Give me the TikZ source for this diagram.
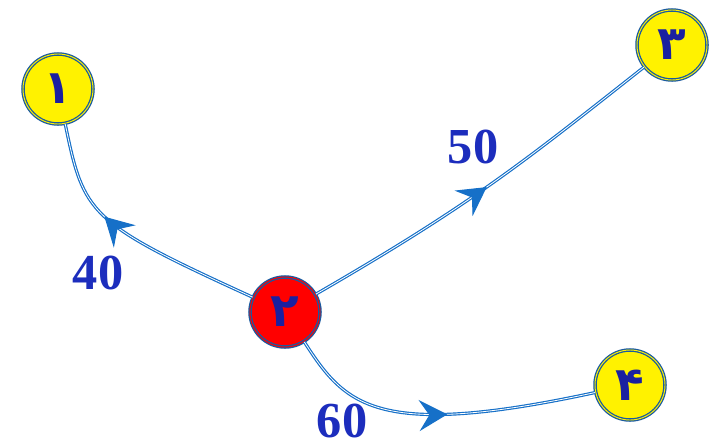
\documentclass[tikz,border=0pt]{standalone}
\usepackage{fontspec}
\usepackage{tikz}
\usetikzlibrary{arrows.meta, decorations.markings}
\newfontfamily\persianfont[Script=Arabic]{DejaVu Sans}
\newfontfamily\weightfont{Liberation Serif}
\definecolor{edgeblue}{RGB}{22,112,200}
\definecolor{ringblue}{RGB}{26,90,160}
\definecolor{labelblue}{RGB}{28,45,189}
\definecolor{digitblue}{RGB}{26,32,160}
\tikzset{
  vertex/.style={circle, draw=ringblue, double=yellow, double distance=0.8pt,
                 line width=1.1pt, fill=yellow, minimum size=2.1cm, inner sep=0pt,
                 text=digitblue, font=\persianfont\bfseries\fontsize{40}{42}\selectfont},
  hotvertex/.style={vertex, fill=red, double=red},
  weight/.style={text=labelblue, inner sep=0pt, font=\weightfont\bfseries\fontsize{43}{45}\selectfont},
  link/.style={draw=edgeblue, double=white, double distance=0.7pt, line width=1pt},
  midarrow/.style={postaction={decorate}, decoration={markings,
                   mark=at position #1 with {\arrow[edgeblue]{Stealth[length=10mm, width=11mm, inset=3.6mm]}}}},
}
\begin{document}
\begin{tikzpicture}[x=0.03cm, y=-0.03cm]
  \useasboundingbox (0,0) rectangle (712,447);

  % Nodes
  \node [vertex] (n1) at (58,89) {۱};
  \node [hotvertex] (n2) at (285,312) {۲};
  \node [vertex] (n3) at (672,45) {۳};
  \node [vertex] (n4) at (630,385) {۴};

  % Weights
  \node [weight] (w40) at (98,273) {40};
  \node [weight] (w50) at (473,147) {50};
  \node [weight] (w60) at (342,421) {60};

  % Edges
  \draw [link, midarrow=0.63] (n2) .. controls (88,222) and (84,215) .. (n1);
  \draw [link, midarrow=0.51] (n2) .. controls (470,205) and (520,165) .. (n3);
  \draw [link, midarrow=0.54] (n2) .. controls (345,405) and (375,440) .. (n4);
\end{tikzpicture}
\end{document}
